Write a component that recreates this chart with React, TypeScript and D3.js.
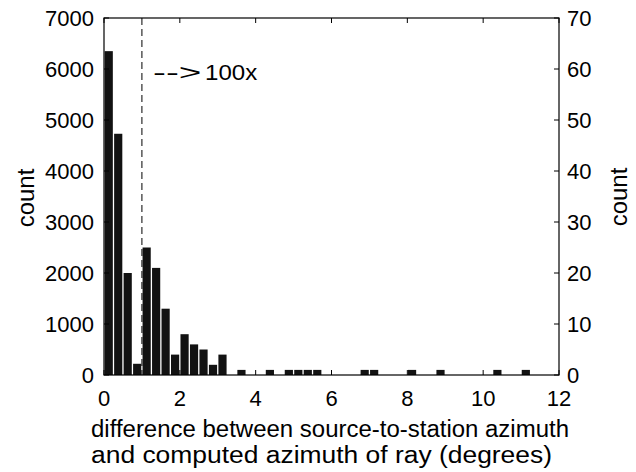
import React from "react";
import * as d3 from "d3";

const binWidth = 0.25;
// bins below the dashed line (left axis, raw counts)
const lowBinStarts = [0, 0.25, 0.5, 0.75];
const lowCounts = [6350, 4730, 2000, 220];
// bins above the dashed line (right axis, counts shown 100x)
const highBinStarts = [1.0, 1.25, 1.5, 1.75, 2.0, 2.25, 2.5, 2.75, 3.0, 3.5, 4.25, 4.75, 5.0, 5.25, 5.5, 6.75, 7.0, 8.0, 8.75, 10.25, 11.0];
const highCounts = [25, 21, 13, 4, 8, 6, 5, 2, 4, 1, 1, 1, 1, 1, 1, 1, 1, 1, 1, 1, 1];

const xTicks = [0, 2, 4, 6, 8, 10, 12];
const leftTicks = [0, 1000, 2000, 3000, 4000, 5000, 6000, 7000];
const rightTicks = [0, 10, 20, 30, 40, 50, 60, 70];
const dashedAt = 1;
const annotationArrow = "-->";
const annotationFactor = "100x";
const xLabel1 = "difference between source-to-station azimuth";
const xLabel2 = "and computed azimuth of ray (degrees)";
const yLabel = "count";

export default function App() {
  const L = 104, R = 559, Tp = 18, B = 375;
  const x = d3.scaleLinear().domain([0, 12]).range([L, R]);
  const yL = d3.scaleLinear().domain([0, 7000]).range([B, Tp]);
  const yR = d3.scaleLinear().domain([0, 70]).range([B, Tp]);
  const font = "'Liberation Sans', Arial, Helvetica, sans-serif";
  const fs = 22;
  const lfs = 24;
  const xfs = 23;
  const tk = 5;
  const gap = 0.65;

  return (
    <svg width={636} height={472} style={{ position: "absolute", left: 0, top: 0, background: "#fff" }} fontFamily={font} fill="#000">
      {lowBinStarts.map((s, i) => (
        <rect key={"l" + i} x={x(s) + gap} width={x(s + binWidth) - x(s) - 2 * gap} y={yL(lowCounts[i])} height={B - yL(lowCounts[i])} fill="#121212" />
      ))}
      {highBinStarts.map((s, i) => (
        <rect key={"h" + i} x={x(s) + gap} width={x(s + binWidth) - x(s) - 2 * gap} y={yR(highCounts[i])} height={B - yR(highCounts[i])} fill="#121212" />
      ))}
      <line x1={x(dashedAt)} x2={x(dashedAt)} y1={Tp} y2={B} stroke="#000" strokeWidth={1} strokeDasharray="7,4" />
      <text transform="translate(153,80) scale(1.8,1)" fontSize={21.5}>{annotationArrow}</text>
      <text transform="translate(205,80) scale(1.12,1)" fontSize={21.5}>{annotationFactor}</text>
      <rect x={L} y={Tp} width={R - L} height={B - Tp} fill="none" stroke="#000" strokeWidth={1.2} />
      {xTicks.map((t) => (
        <g key={"x" + t}>
          <line x1={x(t)} x2={x(t)} y1={B} y2={B - tk} stroke="#000" />
          <line x1={x(t)} x2={x(t)} y1={Tp} y2={Tp + tk} stroke="#000" />
          <text x={x(t)} y={406} fontSize={fs} textAnchor="middle">{t}</text>
        </g>
      ))}
      {leftTicks.map((t) => (
        <g key={"yl" + t}>
          <line x1={L} x2={L + tk} y1={yL(t)} y2={yL(t)} stroke="#000" />
          <text x={94} y={yL(t) + 8} fontSize={fs} textAnchor="end">{t}</text>
        </g>
      ))}
      {rightTicks.map((t) => (
        <g key={"yr" + t}>
          <line x1={R} x2={R - tk} y1={yR(t)} y2={yR(t)} stroke="#000" />
          <text x={567} y={yR(t) + 8} fontSize={fs}>{t}</text>
        </g>
      ))}
      <text transform={`translate(33.5,198) rotate(-90)`} fontSize={lfs} textAnchor="middle">{yLabel}</text>
      <text transform={`translate(627,197) rotate(-90)`} fontSize={lfs} textAnchor="middle">{yLabel}</text>
      <text x={91} y={436.5} fontSize={xfs} textLength={478} lengthAdjust="spacingAndGlyphs">{xLabel1}</text>
      <text x={91} y={462.5} fontSize={xfs} textLength={461} lengthAdjust="spacingAndGlyphs">{xLabel2}</text>
    </svg>
  );
}
